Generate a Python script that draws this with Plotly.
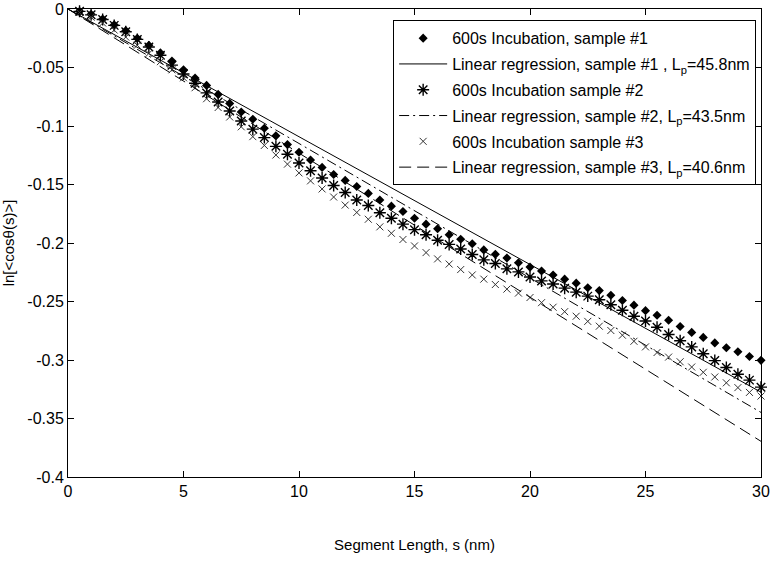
import plotly.graph_objects as go

# Segment length s (nm)
s = [0.5, 1, 1.5, 2, 2.5, 3, 3.5, 4, 4.5, 5, 5.5, 6, 6.5, 7, 7.5, 8, 8.5, 9, 9.5, 10,
     10.5, 11, 11.5, 12, 12.5, 13, 13.5, 14, 14.5, 15, 15.5, 16, 16.5, 17, 17.5, 18, 18.5, 19, 19.5, 20,
     20.5, 21, 21.5, 22, 22.5, 23, 23.5, 24, 24.5, 25, 25.5, 26, 26.5, 27, 27.5, 28, 28.5, 29, 29.5, 30]

sample1 = [-0.002, -0.0045, -0.0085, -0.0135, -0.0185, -0.025, -0.031, -0.0375, -0.0445, -0.052,
           -0.059, -0.0653, -0.073, -0.0807, -0.088, -0.0942, -0.1019, -0.1084, -0.1159, -0.1225,
           -0.129, -0.1354, -0.1414, -0.1465, -0.1517, -0.1576, -0.1633, -0.1685, -0.1731, -0.1788,
           -0.1839, -0.1878, -0.193, -0.1968, -0.2007, -0.2059, -0.2097, -0.2128, -0.2169, -0.2206,
           -0.2239, -0.2273, -0.2309, -0.2343, -0.2382, -0.2407, -0.2446, -0.2492, -0.2531, -0.2578,
           -0.2617, -0.266, -0.2714, -0.2764, -0.2807, -0.2854, -0.2895, -0.293, -0.297, -0.3003]

sample2 = [-0.002, -0.005, -0.009, -0.014, -0.0195, -0.026, -0.0325, -0.0395, -0.048, -0.0555,
           -0.0635, -0.0717, -0.0795, -0.0872, -0.0957, -0.1027, -0.1099, -0.1174, -0.1241, -0.1316,
           -0.1383, -0.1445, -0.1508, -0.1569, -0.1633, -0.168, -0.1742, -0.1788, -0.1839, -0.1886,
           -0.193, -0.1976, -0.2012, -0.2051, -0.2098, -0.2144, -0.2175, -0.2221, -0.2247, -0.2291,
           -0.2324, -0.235, -0.2386, -0.242, -0.2454, -0.2485, -0.2528, -0.2575, -0.2626, -0.2667,
           -0.272, -0.2782, -0.2835, -0.2888, -0.2946, -0.3005, -0.3064, -0.3122, -0.3172, -0.3232]

sample3 = [-0.003, -0.007, -0.012, -0.018, -0.024, -0.031, -0.038, -0.045, -0.052, -0.0588,
           -0.0673, -0.0767, -0.0842, -0.0923, -0.1007, -0.1091, -0.1166, -0.1248, -0.1326, -0.1401,
           -0.1469, -0.1538, -0.1607, -0.1676, -0.1739, -0.1797, -0.1862, -0.1917, -0.197, -0.2025,
           -0.2082, -0.2136, -0.218, -0.2227, -0.2273, -0.2309, -0.2355, -0.2394, -0.2428, -0.2466,
           -0.251, -0.2549, -0.2587, -0.2626, -0.267, -0.2711, -0.2748, -0.2788, -0.284, -0.2888,
           -0.2936, -0.2975, -0.3015, -0.306, -0.3105, -0.3145, -0.3195, -0.3236, -0.3277, -0.3308]

# Linear regression lines (endpoints)
reg_x = [0, 30]
reg1_y = [0, -0.3275]
reg2_y = [0, -0.3448]
reg3_y = [0, -0.3695]

x_ticks = [0, 5, 10, 15, 20, 25, 30]
y_ticks = [0, -0.05, -0.1, -0.15, -0.2, -0.25, -0.3, -0.35, -0.4]
y_ticktext = ["0", "-0.05", "-0.1", "-0.15", "-0.2", "-0.25", "-0.3", "-0.35", "-0.4"]

FONT = "Liberation Sans"

fig = go.Figure()
fig.add_trace(go.Scatter(x=s, y=sample1, mode="markers", name="600s Incubation, sample #1",
                         legendgroup="a",
                         marker=dict(symbol="diamond", size=7, color="black"), cliponaxis=False))
fig.add_trace(go.Scatter(x=reg_x, y=reg1_y, mode="lines",
                         name="Linear regression, sample #1 , L<sub>p</sub>=45.8nm", legendgroup="b",
                         line=dict(color="black", width=1)))
fig.add_trace(go.Scatter(x=s, y=sample2, mode="markers", name="600s Incubation sample #2",
                         legendgroup="c",
                         marker=dict(symbol="asterisk-open", size=10, color="black",
                                     line=dict(color="black", width=1.4)), cliponaxis=False))
fig.add_trace(go.Scatter(x=reg_x, y=reg2_y, mode="lines",
                         name="Linear regression, sample #2, L<sub>p</sub>=43.5nm", legendgroup="d",
                         line=dict(color="black", width=1, dash="10px,4px,2px,4px")))
fig.add_trace(go.Scatter(x=s, y=sample3, mode="markers", name="600s Incubation sample #3",
                         legendgroup="e",
                         marker=dict(symbol="x-thin-open", size=7, color="#333",
                                     line=dict(color="#333", width=1)), cliponaxis=False))
fig.add_trace(go.Scatter(x=reg_x, y=reg3_y, mode="lines",
                         name="Linear regression, sample #3, L<sub>p</sub>=40.6nm", legendgroup="f",
                         line=dict(color="black", width=1, dash="12px,6px")))

axis_common = dict(showgrid=False, zeroline=False, showline=True, linecolor="black", linewidth=1,
                   mirror="ticks", ticks="inside", ticklen=6, tickcolor="black",
                   ticklabeloverflow="allow",
                   tickfont=dict(family=FONT, size=16, color="black"))

fig.update_layout(
    width=771, height=572,
    margin=dict(l=68, r=1, t=2, b=95),
    paper_bgcolor="white", plot_bgcolor="white",
    font=dict(family=FONT, size=15, color="black"),
    showlegend=True,
    legend=dict(x=0.993, y=0.976, xanchor="right", yanchor="top",
                bordercolor="black", borderwidth=1, bgcolor="white",
                font=dict(family=FONT, size=16, color="black"),
                tracegroupgap=2, itemwidth=48, traceorder="grouped"),
    xaxis=dict(range=[0, 30], tickvals=x_ticks,
               title=dict(text="Segment Length, s (nm)", standoff=40,
                          font=dict(family=FONT, size=15)), **axis_common),
    yaxis=dict(range=[-0.4, 0], tickvals=y_ticks, ticktext=y_ticktext,
               title=dict(text="ln[&lt;cos\u03b8(s)&gt;]", standoff=9,
                          font=dict(family=FONT, size=15)), **axis_common),
)

# remove the browser's default page margin so the figure fills the window
fig.write_html("out.html", config={"displayModeBar": False},
               post_script="document.body.style.margin='0px';")
